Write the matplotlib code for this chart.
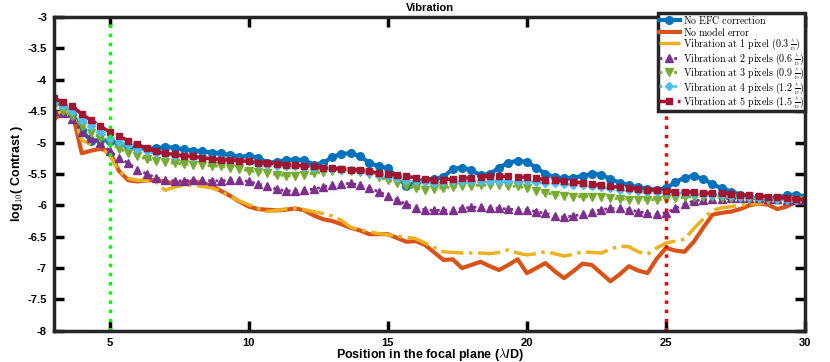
import numpy as np
import matplotlib.pyplot as plt
from matplotlib.mathtext import MathTextParser

plt.rcParams['font.family'] = ['Liberation Sans', 'DejaVu Sans']
plt.rcParams['mathtext.fontset'] = 'cm'

# positions in the focal plane (lambda/D), step of 1/3
x = np.linspace(3, 30, 82)

no_efc = [-4.33, -4.42, -4.55, -4.80, -4.98, -4.96, -4.97, -5.02, -5.06,
          -5.09, -5.10, -5.09, -5.07, -5.08, -5.11, -5.13, -5.14, -5.16,
          -5.17, -5.20, -5.23, -5.21, -5.24, -5.32, -5.31, -5.28, -5.27,
          -5.28, -5.35, -5.33, -5.23, -5.18, -5.17, -5.22, -5.32, -5.38,
          -5.41, -5.55, -5.69, -5.63, -5.59, -5.58, -5.55, -5.42, -5.40,
          -5.44, -5.52, -5.50, -5.40, -5.32, -5.29, -5.31, -5.40, -5.50,
          -5.55, -5.57, -5.56, -5.53, -5.50, -5.51, -5.58, -5.64, -5.68,
          -5.71, -5.74, -5.75, -5.73, -5.63, -5.56, -5.53, -5.58, -5.66,
          -5.73, -5.78, -5.83, -5.87, -5.89, -5.89, -5.88, -5.84, -5.83, -5.86]
no_model_err = [-4.64, -4.49, -4.53, -5.17, -5.13, -5.10, -5.14, -5.45, -5.60,
                -5.62, -5.60, -5.60, -5.62, -5.66, -5.64, -5.62, -5.64, -5.69,
                -5.77, -5.85, -5.94, -6.02, -6.06, -6.07, -6.08, -6.07, -6.05,
                -6.08, -6.16, -6.22, -6.25, -6.30, -6.36, -6.40, -6.46, -6.46,
                -6.46, -6.52, -6.58, -6.57, -6.63, -6.75, -6.87, -6.86, -7.00,
                -6.95, -6.90, -6.97, -7.03, -6.95, -6.86, -7.08, -7.00, -6.92,
                -7.05, -7.16, -7.05, -6.93, -6.95, -7.08, -7.21, -7.10, -6.97,
                -7.04, -7.08, -6.85, -6.68, -6.72, -6.74, -6.58, -6.36, -6.15,
                -6.12, -6.10, -6.06, -6.00, -5.97, -5.99, -6.06, -6.02, -5.95, -5.89]
vib1 = [-4.56, -4.49, -4.52, -4.96, -5.03, -5.08, -5.20, -5.45, -5.57,
        -5.60, -5.61, -5.63, -5.76, -5.71, -5.68, -5.68, -5.70, -5.72,
        -5.78, -5.86, -5.93, -5.99, -6.05, -6.10, -6.08, -6.06, -6.05,
        -6.07, -6.10, -6.13, -6.17, -6.24, -6.35, -6.39, -6.42, -6.45,
        -6.47, -6.49, -6.51, -6.53, -6.60, -6.67, -6.74, -6.75, -6.76,
        -6.76, -6.76, -6.77, -6.75, -6.71, -6.76, -6.79, -6.77, -6.74,
        -6.77, -6.81, -6.78, -6.74, -6.75, -6.76, -6.70, -6.65, -6.66,
        -6.74, -6.78, -6.68, -6.60, -6.57, -6.54, -6.37, -6.22, -6.08,
        -6.04, -6.02, -6.00, -5.98, -5.97, -5.95, -5.96, -5.96, -5.92, -5.90]
vib2 = [-4.50, -4.53, -4.62, -4.83, -4.92, -5.00, -5.13, -5.24, -5.33,
        -5.43, -5.50, -5.56, -5.60, -5.61, -5.61, -5.60, -5.60, -5.61,
        -5.61, -5.60, -5.60, -5.62, -5.66, -5.70, -5.74, -5.77, -5.77,
        -5.76, -5.74, -5.71, -5.68, -5.66, -5.65, -5.68, -5.73, -5.78,
        -5.85, -5.92, -5.98, -6.04, -6.07, -6.08, -6.08, -6.07, -6.05,
        -6.03, -6.03, -6.04, -6.05, -6.06, -6.07, -6.07, -6.10, -6.13,
        -6.17, -6.19, -6.17, -6.14, -6.10, -6.07, -6.05, -6.05, -6.07,
        -6.10, -6.13, -6.14, -6.12, -6.05, -5.98, -5.93, -5.91, -5.90,
        -5.90, -5.89, -5.89, -5.89, -5.89, -5.90, -5.90, -5.91, -5.92, -5.92]
vib3 = [-4.42, -4.50, -4.58, -4.74, -4.84, -4.92, -4.99, -5.10, -5.16,
        -5.22, -5.26, -5.29, -5.31, -5.33, -5.34, -5.35, -5.36, -5.37,
        -5.38, -5.40, -5.42, -5.45, -5.47, -5.49, -5.51, -5.53, -5.53,
        -5.51, -5.49, -5.47, -5.45, -5.44, -5.45, -5.47, -5.50, -5.55,
        -5.60, -5.65, -5.70, -5.73, -5.75, -5.74, -5.72, -5.71, -5.70,
        -5.69, -5.68, -5.68, -5.68, -5.69, -5.70, -5.73, -5.77, -5.80,
        -5.83, -5.85, -5.86, -5.86, -5.86, -5.87, -5.88, -5.90, -5.91,
        -5.91, -5.91, -5.91, -5.90, -5.89, -5.87, -5.86, -5.86, -5.87,
        -5.88, -5.88, -5.89, -5.90, -5.90, -5.91, -5.91, -5.92, -5.92, -5.92]
vib4 = [-4.36, -4.42, -4.50, -4.64, -4.74, -4.83, -4.93, -4.99, -5.04,
        -5.10, -5.14, -5.17, -5.19, -5.21, -5.22, -5.23, -5.24, -5.26,
        -5.27, -5.28, -5.29, -5.30, -5.34, -5.36, -5.37, -5.37, -5.38,
        -5.39, -5.40, -5.41, -5.42, -5.43, -5.44, -5.46, -5.49, -5.52,
        -5.54, -5.57, -5.60, -5.62, -5.63, -5.64, -5.63, -5.62, -5.62,
        -5.62, -5.62, -5.61, -5.61, -5.62, -5.62, -5.62, -5.63, -5.64,
        -5.65, -5.66, -5.67, -5.68, -5.69, -5.71, -5.73, -5.75, -5.76,
        -5.77, -5.78, -5.78, -5.79, -5.80, -5.81, -5.82, -5.82, -5.83,
        -5.84, -5.85, -5.86, -5.87, -5.88, -5.89, -5.90, -5.91, -5.91, -5.92]
vib5 = [-4.29, -4.36, -4.42, -4.55, -4.64, -4.74, -4.83, -4.90, -4.97,
        -5.03, -5.09, -5.14, -5.17, -5.19, -5.21, -5.22, -5.24, -5.26,
        -5.27, -5.28, -5.29, -5.30, -5.32, -5.33, -5.34, -5.35, -5.36,
        -5.37, -5.38, -5.40, -5.41, -5.42, -5.43, -5.44, -5.46, -5.49,
        -5.50, -5.52, -5.54, -5.56, -5.58, -5.60, -5.59, -5.58, -5.57,
        -5.56, -5.55, -5.54, -5.54, -5.54, -5.55, -5.55, -5.57, -5.59,
        -5.60, -5.62, -5.63, -5.64, -5.66, -5.68, -5.70, -5.71, -5.72,
        -5.74, -5.75, -5.76, -5.77, -5.78, -5.78, -5.79, -5.80, -5.81,
        -5.81, -5.82, -5.83, -5.84, -5.85, -5.86, -5.87, -5.89, -5.90, -5.91]

# small stacked lambda/D; fall back to \frac if this mathtext lacks \genfrac styles
frac = r'\genfrac{}{}{0.5}{2}{\lambda}{D}'
try:
    MathTextParser('agg').parse(r'$' + frac + '$', dpi=100)
except Exception:
    frac = r'\frac{\lambda}{D}'

labels = [r'$\mathrm{No\ EFC\ correction}$',
          r'$\mathrm{No\ model\ error}$',
          r'$\mathrm{Vibration\ at\ 1\ pixel\ (0.3\ ' + frac + ')}$',
          r'$\mathrm{Vibration\ at\ 2\ pixels\ (0.6\ ' + frac + ')}$',
          r'$\mathrm{Vibration\ at\ 3\ pixels\ (0.9\ ' + frac + ')}$',
          r'$\mathrm{Vibration\ at\ 4\ pixels\ (1.2\ ' + frac + ')}$',
          r'$\mathrm{Vibration\ at\ 5\ pixels\ (1.5\ ' + frac + ')}$']

fig = plt.figure(figsize=(8.3, 3.62), dpi=100)
ax = fig.add_axes([0.065, 0.086, 0.905, 0.867])

ax.plot(x, no_efc, color='#0072BD', marker='o', ms=5.5, lw=3, label=labels[0])
ax.plot(x, no_model_err, color='#D95319', lw=3, label=labels[1])
ax.plot(x, vib1, color='#EDB120', ls='-.', lw=2.5, label=labels[2])
ax.plot(x, vib2, color='#7E2F8E', marker='^', ms=5.5, ls=':', lw=2, label=labels[3])
ax.plot(x, vib3, color='#77AC30', marker='v', ms=5.5, ls=':', lw=2, label=labels[4])
ax.plot(x, vib4, color='#4DBEEE', marker='D', ms=4.5, ls=':', lw=2, label=labels[5])
ax.plot(x, vib5, color='#A2142F', marker='s', ms=4.5, ls='--', lw=2.5, label=labels[6])

ax.axvline(5, color='#00FF00', ls=':', lw=2.5)
ax.axvline(25, color='#FF0000', ls=':', lw=2.5)

ax.set_xlim(3, 30)
ax.set_ylim(-8, -3)
ax.set_xticks([5, 10, 15, 20, 25, 30])
ax.set_yticks(np.arange(-8, -2.9, 0.5))
ax.set_yticklabels(['-8', '-7.5', '-7', '-6.5', '-6', '-5.5', '-5', '-4.5', '-4', '-3.5', '-3'])
ax.tick_params(direction='in', length=7, width=2.5, labelsize=8, top=True, right=True, pad=5)
for lab in ax.get_xticklabels() + ax.get_yticklabels():
    lab.set_fontweight('bold')
for s in ax.spines.values():
    s.set_linewidth(2.5)
    s.set_color('#262626')

ax.set_title('Vibration', fontsize=8, fontweight='bold', pad=4)
ax.set_xlabel(r'Position in the focal plane ($\mathbf{\lambda}$/D)', fontsize=9, fontweight='bold', labelpad=-1)
ax.set_ylabel(r'log$_{\mathbf{10}}$( Contrast )', fontsize=9, fontweight='bold', labelpad=2)

leg = ax.legend(loc='upper right', bbox_to_anchor=(1.0, 1.012), borderaxespad=0,
                fontsize=7.2, numpoints=1, handlelength=2.1, handleheight=1.0,
                handletextpad=0.3, labelspacing=-0.12, borderpad=0.1,
                fancybox=False, framealpha=1)
leg.get_frame().set_edgecolor('#262626')
leg.get_frame().set_linewidth(2.5)

fig.savefig('out.png', dpi=100)
